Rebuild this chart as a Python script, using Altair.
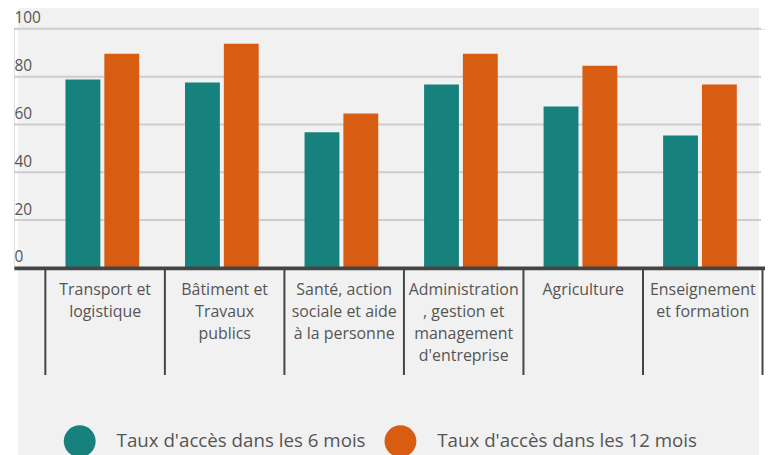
import altair as alt
import pandas as pd

categories = [
    "Transport et\nlogistique",
    "Bâtiment et\nTravaux\npublics",
    "Santé, action\nsociale et aide\nà la personne",
    "Administration\n, gestion et\nmanagement\nd'entreprise",
    "Agriculture",
    "Enseignement\net formation",
]
series_names = ["Taux d'accès dans les 6 mois", "Taux d'accès dans les 12 mois"]
taux_6_mois = [78.8, 77.5, 56.7, 76.7, 67.5, 55.4]
taux_12_mois = [89.6, 93.8, 64.6, 89.6, 84.6, 76.7]
y_ticks = [0, 20, 40, 60, 80, 100]
colors = ["#17827d", "#d95c13"]

rows = []
for i, c in enumerate(categories):
    rows.append({"cat": c, "series": series_names[0], "value": taux_6_mois[i]})
    rows.append({"cat": c, "series": series_names[1], "value": taux_12_mois[i]})
df = pd.DataFrame(rows)
grid_df = pd.DataFrame({"v": y_ticks})

W, H = 754, 240
yscale = alt.Scale(domain=[0, 100], nice=False)
yaxis = alt.Axis(
    values=y_ticks,
    domain=False,
    ticks=False,
    tickSize=0,
    grid=False,
    labelAlign="left",
    labelPadding=0,
    labelOffset=-6,
    labelBaseline="alphabetic",
    labelFontSize=15.5,
    labelColor="#555555",
    zindex=1,
)

bg = alt.Chart(alt.Data(values=[{"a": 1}])).mark_rect(color="#f1f1f1").encode(
    x=alt.value(4), x2=alt.value(748), y=alt.value(-40), y2=alt.value(520)
)

grid = alt.Chart(grid_df).mark_rule(color="#cdcdcd", strokeWidth=2).encode(
    y=alt.Y("v:Q", scale=yscale, axis=yaxis, title=None),
    x=alt.value(0),
    x2=alt.value(750),
)

bars = alt.Chart(df).mark_bar().encode(
    x=alt.X(
        "cat:N",
        sort=categories,
        title=None,
        scale=alt.Scale(paddingInner=0, paddingOuter=0.1417, align=0.912),
        axis=alt.Axis(
            labelAngle=0,
            labelExpr="split(datum.label, '\\n')",
            labelFontSize=16,
            labelColor="#555555",
            labelLineHeight=22,
            labelBaseline="top",
            labelPadding=-93,
            labelLimit=0,
            labelOverlap=False,
            labelFlush=False,
            tickBand="extent",
            tickSize=107,
            tickWidth=2,
            tickColor="#444444",
            domainColor="#444444",
            domainWidth=4,
            zindex=1,
        ),
    ),
    xOffset=alt.XOffset(
        "series:N",
        sort=series_names,
        scale=alt.Scale(paddingInner=0.1026, paddingOuter=0.59, align=0.45),
    ),
    y=alt.Y("value:Q", scale=yscale, title=None, axis=yaxis),
    color=alt.Color(
        "series:N",
        sort=series_names,
        scale=alt.Scale(domain=series_names, range=colors),
        legend=alt.Legend(
            title=None,
            orient="none",
            legendX=50,
            legendY=398,
            direction="horizontal",
            symbolType="circle",
            symbolSize=1024,
            symbolStrokeWidth=0,
            symbolOpacity=1,
            labelFontSize=18.8,
            labelColor="#555555",
            labelOffset=21,
            columnPadding=19,
            labelLimit=0,
        ),
    ),
)

chart = (
    alt.layer(bg, grid, bars)
    .properties(
        width=W,
        height=H,
        padding={"left": 6, "top": 20, "right": 0, "bottom": 200},
        autosize=alt.AutoSizeParams(type="none"),
        background="white",
    )
    .configure_view(stroke=None)
    .configure(font="Open Sans")
)

chart.save("out.html", embed_options={"renderer": "svg", "actions": False})
